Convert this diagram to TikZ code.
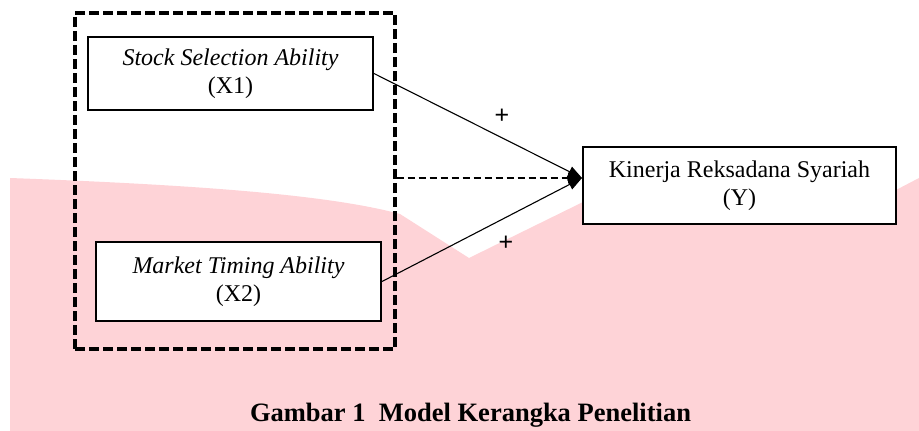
\documentclass[tikz,border=0pt]{standalone}
\usepackage{fontspec}
\setmainfont{Liberation Serif}
\newfontfamily\plusfont{Liberation Sans}
\usetikzlibrary{arrows.meta}
\definecolor{pinkwm}{RGB}{254,211,215}
\tikzset{
  varbox/.style={draw=black, line width=2pt, fill=white, align=center, inner sep=0pt,
    font=\fontsize{24}{28}\selectfont},
  groupbox/.style={draw=black, line width=3.2pt, dash pattern=on 10pt off 4pt, inner sep=0pt},
  link/.style={line width=1.1pt, -{Triangle[length=14pt,width=11pt]}},
  dlink/.style={line width=1.1pt, dash pattern=on 7pt off 4pt, -{Triangle[length=14pt,width=11pt]}},
  plus/.style={inner sep=0pt, font=\plusfont\fontsize{25}{28}\selectfont},
}
\begin{document}
\begin{tikzpicture}[x=1pt,y=-1pt]
\useasboundingbox (0,0) rectangle (919,431);
% watermark background
\fill[pinkwm] (10,178) .. controls (200,185) and (330,195) .. (400,214) -- (469,258)
  -- (583,202) -- (896,190) -- (919,178) -- (919,431) -- (10,431) -- cycle;
% group box
\node[groupbox, minimum width=320pt, minimum height=336pt] (grp) at (235,181) {};
% variable boxes
\node[varbox, minimum width=285pt, minimum height=73pt] (x1) at (230.5,73.5)
  {\textit{Stock Selection Ability}\\(X1)};
\node[varbox, minimum width=285pt, minimum height=79pt] (x2) at (238.5,281.5)
  {\textit{Market Timing Ability}\\(X2)};
\node[varbox, minimum width=313pt, minimum height=77pt] (y) at (739.5,185.5)
  {Kinerja Reksadana Syariah\\(Y)};
\coordinate (tip) at (582,178);
% connectors
\draw[link] (x1.east) -- (tip);
\draw[link] (x2.east) -- (tip);
\draw[dlink] (grp.east |- tip) -- (tip);
% labels
\node[plus] (p1) at (502,116) {+};
\node[plus] (p2) at (506,243) {+};
% caption
\node[font=\fontsize{26.5}{30}\selectfont\bfseries, inner sep=0pt, anchor=base] (cap) at (470.5,421)
  {Gambar 1\ \ Model Kerangka Penelitian};
\end{tikzpicture}
\end{document}
